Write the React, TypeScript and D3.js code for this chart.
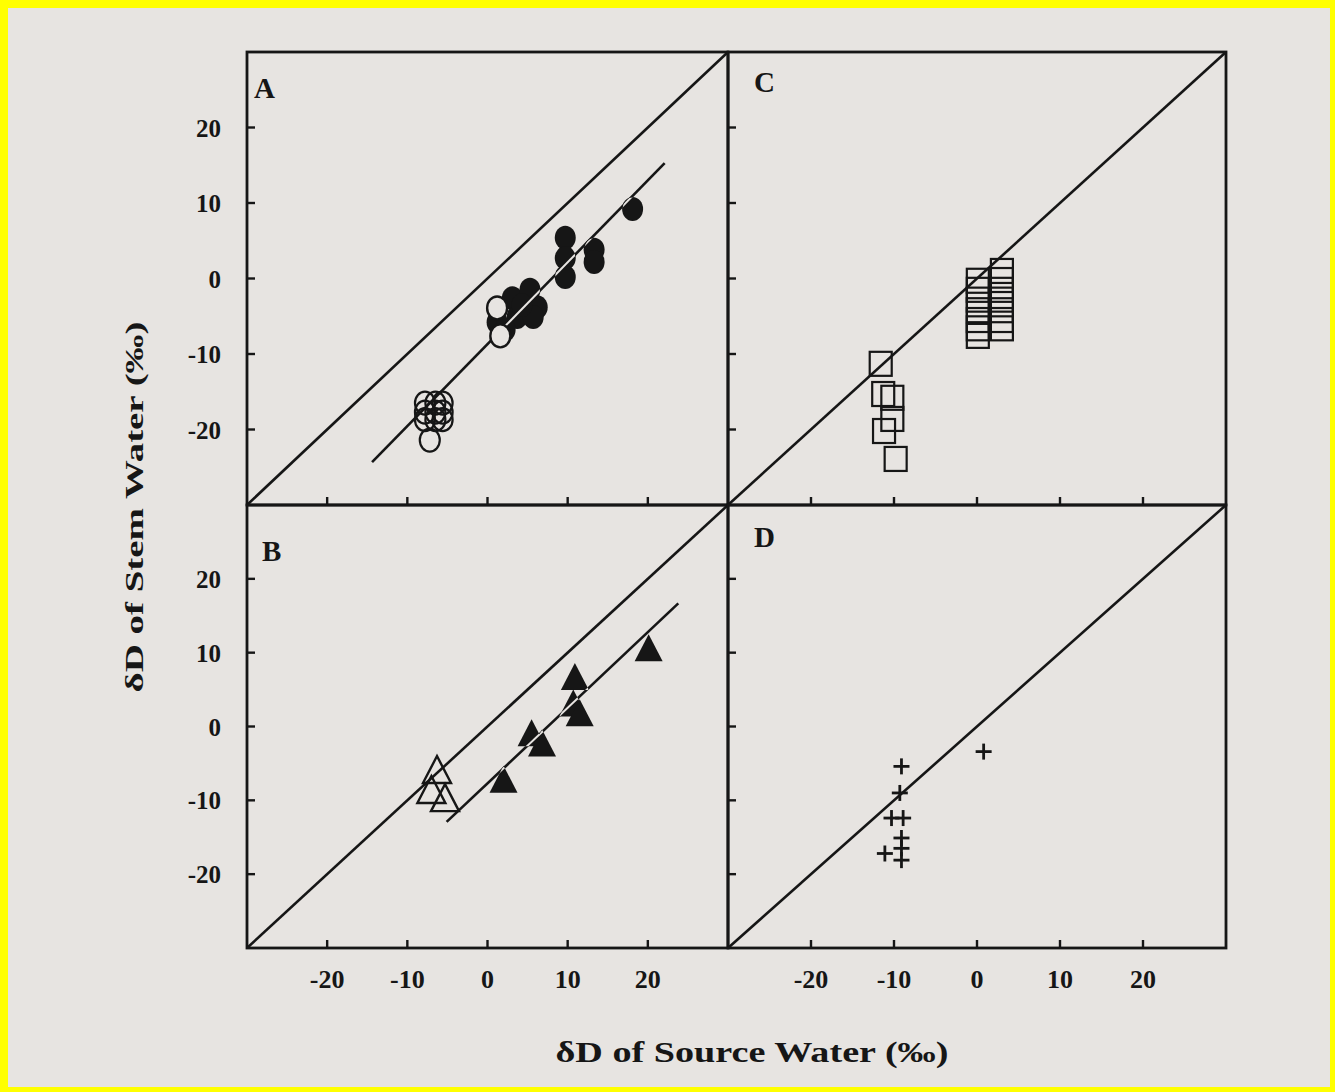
import React from "react";
import * as d3 from "d3";

// ---------- data ----------
const axisDomain: [number, number] = [-30, 30];
const tickValues = [-20, -10, 0, 10, 20];
const tickLabels = ["-20", "-10", "0", "10", "20"];

// Panel A (circles)
const aFilled: [number, number][] = [
  [18.1, 9.2], [9.7, 5.4], [9.7, 2.7], [9.7, 0.2], [13.3, 3.8], [13.3, 2.2],
  [1.2, -5.8], [3.1, -2.6], [3.7, -5.1], [5.3, -1.5], [6.2, -3.8], [5.7, -5.1],
  [4.3, -3.5], [2.2, -6.8],
];
const aOpen: [number, number][] = [[1.2, -3.9], [1.6, -7.6]];
const aHatched: [number, number][] = [
  [-7.8, -16.5], [-6.5, -16.5], [-5.6, -16.5],
  [-7.8, -17.7], [-6.5, -17.7], [-5.6, -17.7],
  [-7.8, -18.7], [-6.5, -18.7], [-5.6, -18.7],
  [-7.2, -21.4],
];
const aFit = { slope: 1.085, intercept: -8.7, from: -14.4, to: 22.1 };

// Panel B (triangles)
const bFilled: [number, number][] = [
  [20.1, 10.6], [10.9, 6.7], [10.7, 3.1], [11.5, 1.8],
  [5.5, -0.9], [6.8, -2.3], [2.0, -7.2],
];
const bOpen: [number, number][] = [[-6.3, -5.9], [-7.0, -8.6], [-5.3, -9.7]];
const bFit = { slope: 1.024, intercept: -7.7, from: -5.1, to: 23.8 };

// Panel C (squares)
const cSquares: [number, number][] = [
  [-11.6, -11.3], [-11.3, -15.3], [-10.2, -15.8], [-10.2, -18.6], [-11.2, -20.2], [-9.8, -23.9],
  [0.1, -0.3], [0.1, -1.5], [0.1, -2.8], [0.1, -4.2], [0.1, -5.5], [0.1, -6.6], [0.1, -7.6],
  [3.0, 1.0], [3.0, -0.2], [3.0, -1.5], [3.0, -2.8], [3.0, -4.2], [3.0, -5.5], [3.0, -6.6],
];

// Panel D (crosses)
const dCrosses: [number, number][] = [
  [-9.1, -5.4], [-9.3, -9.0], [-10.3, -12.4], [-8.9, -12.4], [-9.1, -15.1],
  [-9.1, -16.5], [-11.1, -17.2], [-9.1, -18.1], [0.8, -3.4],
];

// ---------- layout / style ----------
const W = 1335;
const H = 1092;
const frame = { left: 247, mid: 728, right: 1226, top: 52, middle: 505, bottom: 948 };
const ink = "#161616";
const paper = "#e7e4e1";
const serif = "'Liberation Serif', 'Times New Roman', serif";

function scalesFor(col: number, row: number) {
  const xr = col === 0 ? [frame.left, frame.mid] : [frame.mid, frame.right];
  const yr = row === 0 ? [frame.top, frame.middle] : [frame.middle, frame.bottom];
  const x = d3.scaleLinear().domain(axisDomain).range(xr);
  const y = d3.scaleLinear().domain(axisDomain).range([yr[1], yr[0]]);
  return { x, y };
}

type S = d3.ScaleLinear<number, number>;

function PanelFrame({ sx, sy, letter, yLabels, xLabels }: { sx: S; sy: S; letter: string; yLabels: boolean; xLabels: boolean }) {
  const [x0, x1] = sx.range();
  const [y1, y0] = sy.range();
  const diag = d3.line<number>().x((v) => sx(v)).y((v) => sy(v))(axisDomain as number[]) || "";
  return (
    <g>
      <rect x={x0} y={y0} width={x1 - x0} height={y1 - y0} fill="none" stroke={ink} strokeWidth={2.8} />
      <path d={diag} stroke={ink} strokeWidth={2.6} fill="none" />
      {tickValues.map((t) => (
        <line key={"xt" + t} x1={sx(t)} x2={sx(t)} y1={y1} y2={y1 - 8} stroke={ink} strokeWidth={2.4} />
      ))}
      {tickValues.map((t) => (
        <line key={"yt" + t} x1={x0} x2={x0 + 8} y1={sy(t)} y2={sy(t)} stroke={ink} strokeWidth={2.4} />
      ))}
      {yLabels &&
        tickValues.map((t, i) => (
          <text key={"yl" + t} x={221} y={sy(t)} dy="0.36em" textAnchor="end" fontFamily={serif} fontWeight="bold" fontSize={25} fill={ink}>
            {tickLabels[i]}
          </text>
        ))}
      {xLabels &&
        tickValues.map((t, i) => (
          <text key={"xl" + t} x={sx(t)} y={988} textAnchor="middle" fontFamily={serif} fontWeight="bold" fontSize={26} fill={ink}>
            {tickLabels[i]}
          </text>
        ))}
      <text x={x0 + (letter === "A" ? 7 : letter === "B" ? 15 : 26)} y={y0 + (letter === "A" ? 46 : letter === "B" ? 56 : letter === "C" ? 40 : 42)} fontFamily={serif} fontWeight="bold" fontSize={29} fill={ink}>
        {letter}
      </text>
    </g>
  );
}

function fitPath(sx: S, sy: S, fit: { slope: number; intercept: number; from: number; to: number }) {
  return d3.line<number>().x((v) => sx(v)).y((v) => sy(fit.slope * v + fit.intercept))([fit.from, fit.to]) || "";
}

const triPath = (cx: number, cy: number) => `M${cx},${cy - 14}L${cx + 14},${cy + 13}L${cx - 14},${cy + 13}Z`;

export default function App() {
  const A = scalesFor(0, 0);
  const B = scalesFor(0, 1);
  const C = scalesFor(1, 0);
  const D = scalesFor(1, 1);

  const aFitD = fitPath(A.x, A.y, aFit);
  const bFitD = fitPath(B.x, B.y, bFit);

  return (
    <svg width={W} height={H} style={{ position: "absolute", left: 0, top: 0 }} xmlns="http://www.w3.org/2000/svg">
      <defs>
        <clipPath id="clipAFilled">
          {aFilled.map((p, i) => (
            <ellipse key={i} cx={A.x(p[0])} cy={A.y(p[1])} rx={10} ry={11.5} />
          ))}
        </clipPath>
        <clipPath id="clipBFilled">
          {bFilled.map((p, i) => (
            <path key={i} d={triPath(B.x(p[0]), B.y(p[1]))} />
          ))}
        </clipPath>
      </defs>
      <rect x={0} y={0} width={W} height={H} fill="#ffff00" />
      <rect x={8} y={8} width={W - 13} height={H - 13} fill={paper} />

      {/* Panel A */}
      <PanelFrame sx={A.x} sy={A.y} letter="A" yLabels={true} xLabels={false} />
      <path d={aFitD} stroke={ink} strokeWidth={2.6} fill="none" />
      {aHatched.map((p, i) => (
        <ellipse key={"ah" + i} cx={A.x(p[0])} cy={A.y(p[1])} rx={10} ry={11.5} fill="none" stroke={ink} strokeWidth={2.2} />
      ))}
      {aFilled.map((p, i) => (
        <ellipse key={"af" + i} cx={A.x(p[0])} cy={A.y(p[1])} rx={10.5} ry={12} fill={ink} />
      ))}
      <path d={aFitD} stroke={paper} strokeWidth={2} fill="none" clipPath="url(#clipAFilled)" />
      {aOpen.map((p, i) => (
        <ellipse key={"ao" + i} cx={A.x(p[0])} cy={A.y(p[1])} rx={10} ry={11.5} fill={paper} stroke={ink} strokeWidth={2.4} />
      ))}

      {/* Panel B */}
      <PanelFrame sx={B.x} sy={B.y} letter="B" yLabels={true} xLabels={true} />
      <path d={bFitD} stroke={ink} strokeWidth={2.6} fill="none" />
      {bFilled.map((p, i) => (
        <path key={"bf" + i} d={triPath(B.x(p[0]), B.y(p[1]))} fill={ink} />
      ))}
      <path d={bFitD} stroke={paper} strokeWidth={2} fill="none" clipPath="url(#clipBFilled)" />
      {bOpen.map((p, i) => (
        <path key={"bo" + i} d={triPath(B.x(p[0]), B.y(p[1]))} fill="none" stroke={ink} strokeWidth={2.4} />
      ))}

      {/* Panel C */}
      <PanelFrame sx={C.x} sy={C.y} letter="C" yLabels={false} xLabels={false} />
      {cSquares.map((p, i) => (
        <rect key={"cs" + i} x={C.x(p[0]) - 11} y={C.y(p[1]) - 12} width={22} height={24} fill="none" stroke={ink} strokeWidth={2.2} />
      ))}

      {/* Panel D */}
      <PanelFrame sx={D.x} sy={D.y} letter="D" yLabels={false} xLabels={true} />
      {dCrosses.map((p, i) => {
        const cx = D.x(p[0]);
        const cy = D.y(p[1]);
        return (
          <g key={"dc" + i} stroke={ink} strokeWidth={2.8}>
            <line x1={cx - 8} x2={cx + 8} y1={cy} y2={cy} />
            <line x1={cx} x2={cx} y1={cy - 8} y2={cy + 8} />
          </g>
        );
      })}

      {/* Axis titles */}
      <text x={752} y={1062} textAnchor="middle" fontFamily={serif} fontWeight="bold" fontSize={30} fill={ink} textLength={393} lengthAdjust="spacingAndGlyphs">
        δD of  Source Water (‰)
      </text>
      <text transform="translate(143,507) rotate(-90)" textAnchor="middle" fontFamily={serif} fontWeight="bold" fontSize={25} fill={ink} textLength={371} lengthAdjust="spacingAndGlyphs">
        δD of Stem Water (‰)
      </text>
    </svg>
  );
}
